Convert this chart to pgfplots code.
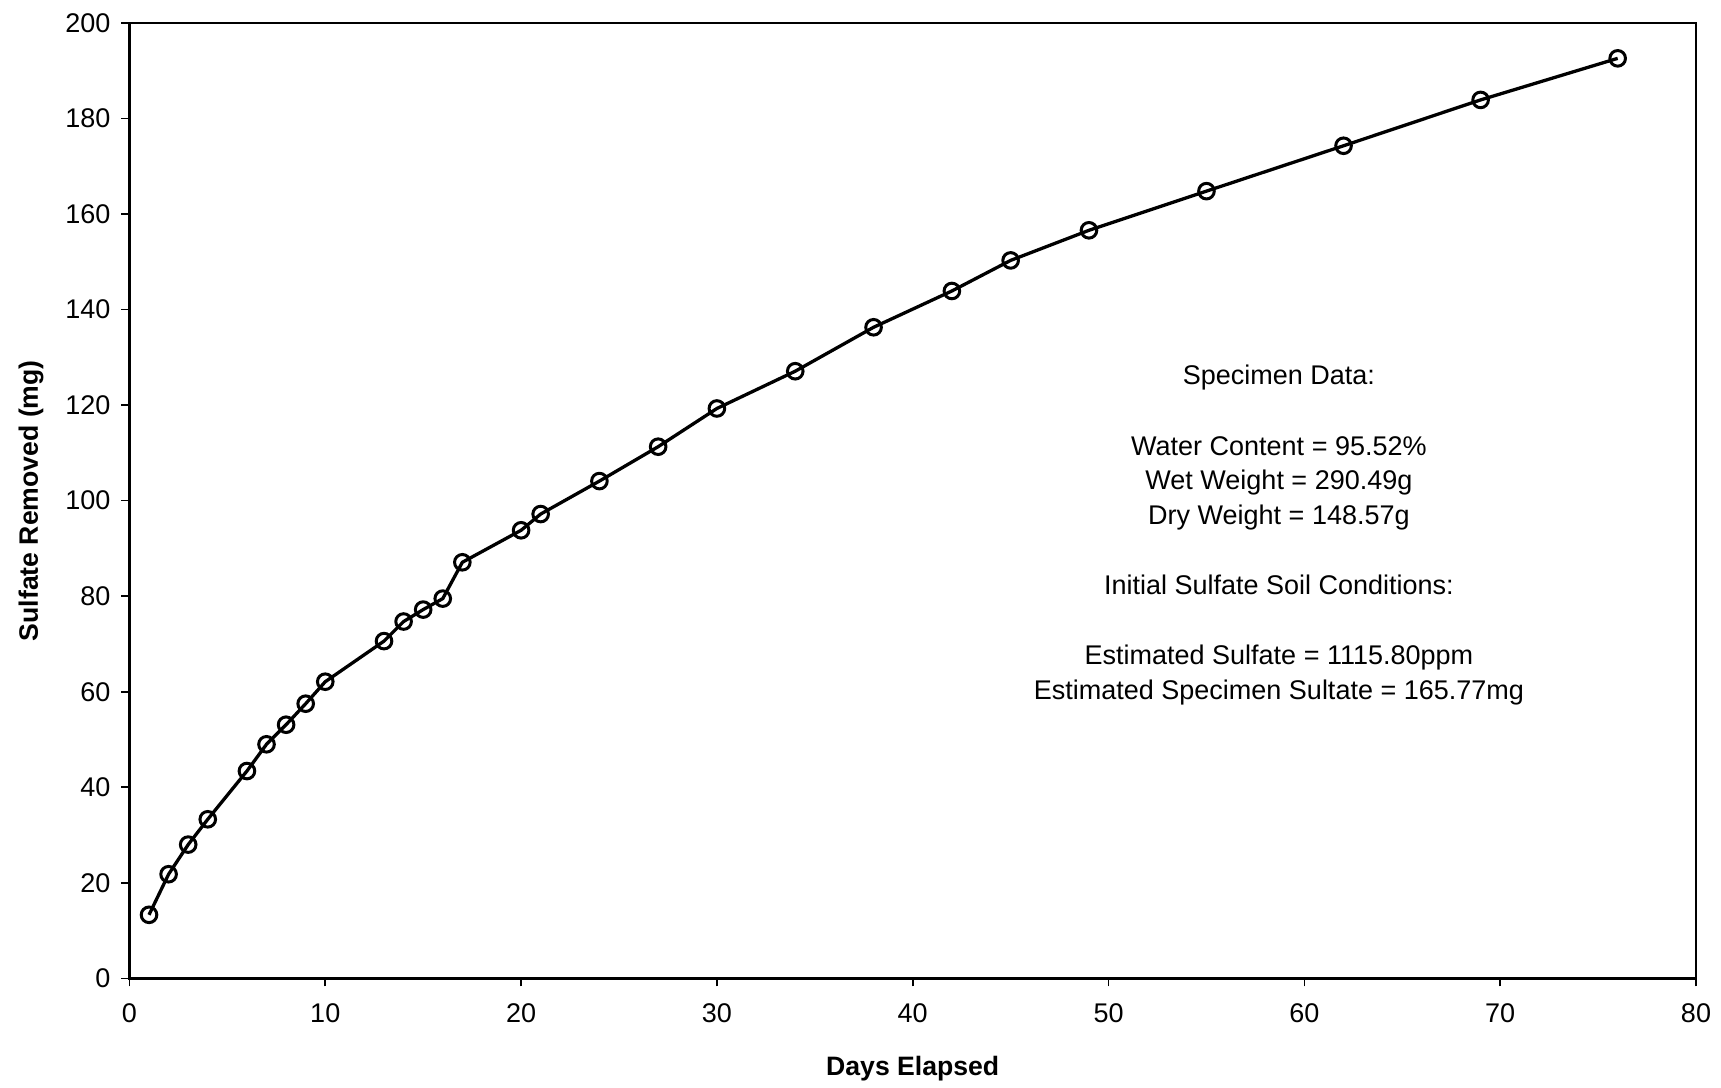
\documentclass[border=0pt]{standalone}
\usepackage{pgfplots}
\pgfplotsset{compat=1.18}
\usepackage{fontspec}
\setmainfont{Liberation Sans}
\begin{document}
\begin{tikzpicture}
\begin{axis}[
  name=ax,
  scale only axis,
  width=783pt, height=477.5pt,
  xmin=0, xmax=80, ymin=0, ymax=200,
  xtick distance=10, ytick distance=20,
  axis line style={line width=1.2pt},
  tick style={line width=0.8pt, black},
  tick align=outside, major tick length=4pt,
  xtick pos=bottom, ytick pos=left,
  /pgf/number format/assume math mode=true,
  ticklabel style={font=\fontsize{13.5}{16}\selectfont},
  xticklabel style={yshift=-5pt},
  yticklabel style={xshift=-2pt},
  xlabel={\textbf{Days Elapsed}},
  ylabel={\textbf{Sulfate Removed (mg)}},
  label style={font=\fontsize{13.3}{16}\selectfont},
  xlabel style={yshift=-10pt},
  ylabel style={yshift=4pt},
  clip=false,
]
\addplot[black, line width=1.65pt, mark=o, mark size=3.9pt,
  mark options={fill=white, line width=1.5pt}] coordinates {
(1,13.3) (2,21.8) (3,28.0) (4,33.3) (6,43.4) (7,49.0) (8,53.1) (9,57.5)
(10,62.1) (13,70.6) (14,74.7) (15,77.2) (16,79.5) (17,87.1) (20,93.8)
(21,97.2) (24,104.1) (27,111.3) (30,119.3) (34,127.1) (38,136.3)
(42,143.9) (45,150.3) (49,156.6) (55,164.8) (62,174.3) (69,183.9) (76,192.6)
};
\node[font=\fontsize{13.5}{17.3}\selectfont, align=center, anchor=north]
  at (axis cs:58.7,129.8) {Specimen Data:\\[17.8pt]
  Water Content = 95.52\%\\
  Wet Weight = 290.49g\\
  Dry Weight = 148.57g\\[17.8pt]
  Initial Sulfate Soil Conditions:\\[17.8pt]
  Estimated Sulfate = 1115.80ppm\\
  Estimated Specimen Sultate = 165.77mg};
\end{axis}
\pgfresetboundingbox
\path ([shift={(-64.7pt,-54.5pt)}]ax.south west) rectangle ([shift={(12.5pt,11.5pt)}]ax.north east);
\end{tikzpicture}
\end{document}
